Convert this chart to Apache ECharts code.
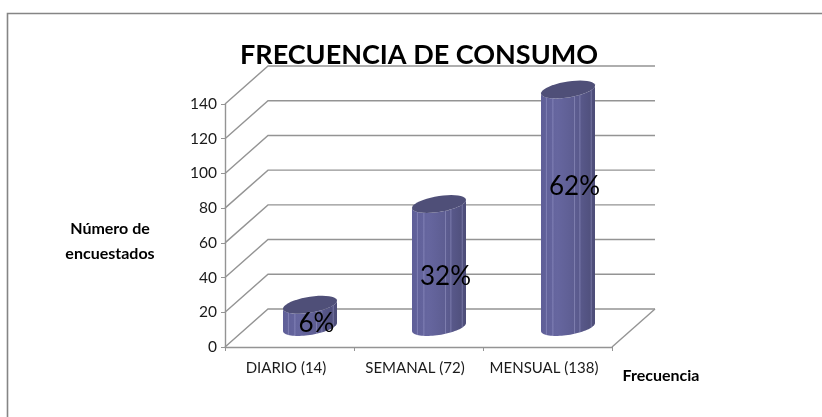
<!DOCTYPE html>
<html>
<head>
<meta charset="utf-8">
<style>
  html, body { margin: 0; padding: 0; background: #fff; }
  #chart { width: 822px; height: 417px; }
</style>
<script src="https://cdn.jsdelivr.net/npm/echarts@6/dist/echarts.min.js"></script>
</head>
<body>
<div id="chart"></div>
<script>
  var categories = ['DIARIO (14)', 'SEMANAL (72)', 'MENSUAL (138)'];
  var counts = [14, 72, 138];
  var percents = ['6%', '32%', '62%'];
  var ticks = [0, 20, 40, 60, 80, 100, 120, 140];

  var font = 'Lato, "Open Sans", sans-serif';
  var lineColor = '#949494';
  // desplazamiento de la pared del fondo respecto al plano frontal
  var depthX = 43, depthY = -38;
  // posicion de la barra dentro de la profundidad
  var barX = 20.5, barY = -18;
  var barRx = 27, barRy = 8, barTilt = 4;
  // altura del texto de porcentaje, en unidades del eje
  var labelAt = [3, 30, 82];
  var facets = [0.1, 0.22, 0.62, 0.72, 0.93];

  function ellipsePts(cx, cy, from, to) {
    var pts = [];
    for (var i = 0; i <= 40; i++) {
      var t = from + (to - from) * i / 40;
      pts.push([cx + barRx * Math.cos(t), cy + barRy * Math.sin(t) - barTilt * Math.cos(t)]);
    }
    return pts;
  }

  function renderFloorWall(params, api) {
    var v = api.value(0);
    var y = api.coord([0, v])[1];
    var rect = params.coordSys;
    var x0 = rect.x, x1 = rect.x + rect.width;
    var ls = { stroke: lineColor, lineWidth: 1.4, fill: null };
    var children = [
      { type: 'polyline', shape: { points: [[x0, y], [x0 + depthX, y + depthY], [x1 + depthX, y + depthY]] }, style: ls }
    ];
    if (v === 0) {
      children.push({ type: 'line', shape: { x1: x1, y1: y, x2: x1 + depthX, y2: y + depthY }, style: ls });
    }
    return { type: 'group', children: children };
  }

  function renderCylinder(params, api) {
    var i = api.value(0);
    var base = api.coord([i, 0]);
    var top = api.coord([i, api.value(1)]);
    var cx = base[0] + barX;
    var by = base[1] + barY - 2, ty = top[1] + barY;
    var side = {
      type: 'linear', x: 0, y: 0, x2: 1, y2: 0,
      colorStops: [
        { offset: 0, color: '#5f5f98' },
        { offset: 0.3, color: '#66669f' },
        { offset: 0.65, color: '#5c5c90' },
        { offset: 1, color: '#4d4d78' }
      ]
    };
    var body = ellipsePts(cx, by, 0, Math.PI);
    var topEdge = ellipsePts(cx, ty, Math.PI, 0);
    var children = [
      { type: 'polygon', shape: { points: body.concat(topEdge) }, style: { fill: side } }
    ];
    facets.forEach(function (f) {
      var fx = cx - barRx + 2 * barRx * f;
      var t = Math.acos((fx - cx) / barRx);
      var off = barRy * Math.sin(t) - barTilt * Math.cos(t);
      children.push({
        type: 'line',
        shape: { x1: fx, y1: by + off, x2: fx, y2: ty + off },
        style: { stroke: 'rgba(175,175,220,0.4)', lineWidth: 1 }
      });
    });
    children.push({
      type: 'polygon',
      shape: { points: ellipsePts(cx, ty, 0, Math.PI * 2) },
      style: { fill: '#4f4f78' }
    });
    return { type: 'group', children: children };
  }

  function renderPercent(params, api) {
    var i = api.value(0);
    var p = api.coord([i, labelAt[i]]);
    return {
      type: 'text',
      x: p[0] + 27, y: p[1] + barY,
      style: {
        text: percents[i],
        font: '26px ' + font,
        fill: '#000',
        align: 'center',
        verticalAlign: 'middle'
      }
    };
  }

  var myChart = echarts.init(document.getElementById('chart'), null, { renderer: 'canvas' });
  myChart.setOption({
    backgroundColor: '#fff',
    animation: false,
    graphic: [
      { type: 'polyline', shape: { points: [[7.5, 417], [7.5, 13.5], [822, 13.5]] }, style: { stroke: '#858585', lineWidth: 1.6, fill: null } },
      { type: 'text', x: 419, y: 55, style: { text: 'FRECUENCIA DE CONSUMO', font: 'bold 27px ' + font, fill: '#000', align: 'center', verticalAlign: 'middle' } },
      { type: 'text', x: 110, y: 229, style: { text: 'Número de', font: 'bold 16px ' + font, fill: '#000', align: 'center', verticalAlign: 'middle' } },
      { type: 'text', x: 110, y: 254, style: { text: 'encuestados', font: 'bold 16px ' + font, fill: '#000', align: 'center', verticalAlign: 'middle' } },
      { type: 'text', x: 661, y: 376, style: { text: 'Frecuencia', font: 'bold 16px ' + font, fill: '#000', align: 'center', verticalAlign: 'middle' } }
    ],
    grid: { left: 225, right: 210, top: 104, bottom: 70 },
    xAxis: {
      type: 'category',
      data: categories,
      axisLine: { lineStyle: { color: lineColor, width: 1.4 } },
      axisTick: { show: true, length: 4, lineStyle: { color: lineColor } },
      axisLabel: { color: '#1a1a1a', fontFamily: font, fontSize: 15, margin: 14, interval: 0, padding: [0, 7, 0, 0] }
    },
    yAxis: {
      type: 'value',
      min: 0, max: 140, interval: 20,
      axisLine: { show: true, lineStyle: { color: lineColor, width: 1.4 } },
      axisTick: { show: true, length: 4, lineStyle: { color: lineColor } },
      axisLabel: { color: '#1a1a1a', fontFamily: font, fontSize: 15.5, margin: 8 },
      splitLine: { show: false }
    },
    series: [
      {
        type: 'custom',
        renderItem: renderFloorWall,
        data: ticks.map(function (t) { return [t]; }),
        encode: { y: 0 },
        coordinateSystem: 'cartesian2d',
        clip: false, silent: true, z: 1
      },
      {
        type: 'custom',
        renderItem: renderCylinder,
        data: counts.map(function (v, i) { return [i, v]; }),
        encode: { x: 0, y: 1 },
        clip: false, silent: true, z: 2
      },
      {
        type: 'custom',
        renderItem: renderPercent,
        data: counts.map(function (v, i) { return [i, v]; }),
        encode: { x: 0, y: 1 },
        clip: false, silent: true, z: 3
      }
    ]
  });
</script>
</body>
</html>
